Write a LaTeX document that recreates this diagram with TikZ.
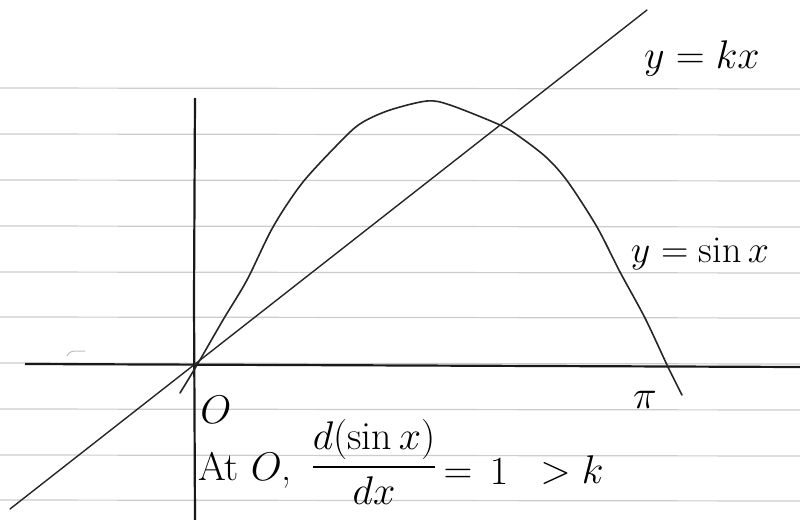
\documentclass[tikz,border=0pt]{standalone}
\usepackage{fix-cm}
\usepackage{amsmath}
\usepackage{fontspec}
\begin{document}
\begin{tikzpicture}[x=0.5pt,y=-0.5pt,
  rule/.style={gray!40,line width=0.6pt},
  axis/.style={black!90,line width=1.1pt},
  curve/.style={black!85,line width=0.8pt,line cap=round,line join=round},
  hand/.style={inner sep=0pt,font=\fontsize{20}{24}\selectfont}]
\useasboundingbox (0,0) rectangle (800,520);
\fill[white] (0,0) rectangle (800,520);
% ruled lines
\foreach \yy in {88,134,180,226,272,317,363,409,455,500}
  \draw[rule] (0,\yy) -- (800,\yy+1);
% stray mark
\draw[gray!50,line width=0.5pt] (67,356) .. controls (70,351) .. (85,351);
% axes
\draw[axis] (25,364) -- (800,367);
\draw[axis] (195,98) -- (194,300) -- (195,520);
% y = kx
\coordinate (k0) at (10,509);
\coordinate (k1) at (647,10);
\draw[curve,line width=0.7pt] (k0) -- (k1);
% y = sin x
\draw[curve] plot[smooth,tension=0.5] coordinates {
 (180,393) (197,365) (223,320) (247,280) (273,227) (303,182)
 (345,137) (363,122) (390,110) (427,101) (450,105) (500,125)
 (520,137) (547,158) (568,182) (597,227) (620,272) (645,318)
 (668,367) (682,395)};
% labels
\node[hand] (lk) at (702,58) {$y=kx$};
\node[hand,font=\fontsize{19}{23}\selectfont] (ls) at (700,254) {$y=\sin x$};
\node[hand] (lo) at (216,410) {$O$};
\node[hand] (lpi) at (645,400) {$\pi$};
\node[hand] (lat) at (245,470) {At $O$,};
\node[hand] (lfr) at (374,462) {$\dfrac{d(\sin x)}{dx}$};
\node[hand] (leq) at (458,476) {$=$};
\node[hand] (lone) at (499,472) {$1$};
\node[hand] (lgt) at (572,470) {$>k$};
\end{tikzpicture}
\end{document}
